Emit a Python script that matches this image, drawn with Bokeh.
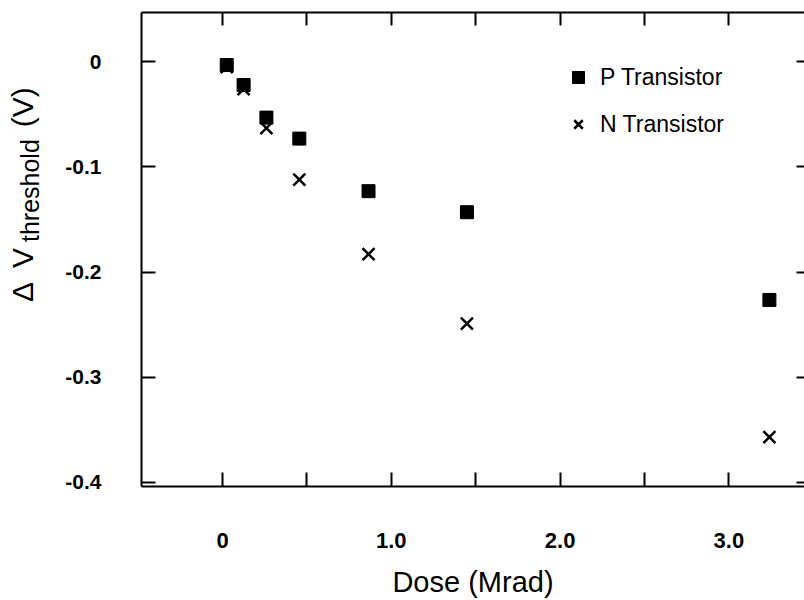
import math
from bokeh.plotting import figure
from bokeh.layouts import row
from bokeh.models import (LinearAxis, FixedTicker, CustomJSTickFormatter,
                          Legend, LegendItem)
from bokeh.core.properties import value
from bokeh.embed import file_html
from bokeh.resources import INLINE

# ---- data ----
dose = [0.025, 0.125, 0.26, 0.455, 0.865, 1.448, 3.24]
p_shift = [-0.003, -0.022, -0.053, -0.073, -0.123, -0.143, -0.2265]
n_shift = [-0.005, -0.026, -0.063, -0.112, -0.183, -0.249, -0.357]
x_ticks = [0, 0.5, 1.0, 1.5, 2.0, 2.5, 3.0, 3.5]
y_ticks = [0, -0.1, -0.2, -0.3, -0.4]
series_names = ["P Transistor", "N Transistor"]
x_title = "Dose (Mrad)"
y_title_parts = ["\u0394", "V", "threshold", "(V)"]

FONT = "Liberation Sans"

# ---- narrow panel holding the composite y-axis title (1 unit = 1 px, y up) ----
t = figure(width=60, height=600, x_range=(0, 60), y_range=(113, 588),
           output_backend="svg", toolbar_location=None,
           x_axis_type=None, y_axis_type=None,
           min_border_left=0, min_border_right=0, min_border_top=12, min_border_bottom=113)
t.xgrid.visible = False
t.ygrid.visible = False
t.outline_line_color = None
tkw = dict(angle=math.pi / 2, text_font=value(FONT), text_color="black",
           text_baseline="alphabetic")
t.text(x=[22], y=[308], text=[y_title_parts[0]], text_font_size="30px",
       text_align="center", **tkw)
t.text(x=[22], y=[342], text=[y_title_parts[1]], text_font_size="30px",
       text_align="center", **tkw)
t.text(x=[29], y=[358], text=[y_title_parts[2]], text_font_size="25px",
       text_align="left", **tkw)
t.text(x=[22], y=[493], text=[y_title_parts[3]], text_font_size="30px",
       text_align="center", **tkw)

# ---- main plot ----
p = figure(width=744, height=600, x_range=(-0.48, 3.448), y_range=(-0.404, 0.047),
           output_backend="svg", toolbar_location=None,
           min_border_left=81, min_border_right=0, min_border_top=12, min_border_bottom=113)
p.xgrid.visible = False
p.ygrid.visible = False
p.outline_line_color = None
p.background_fill_color = "white"
p.border_fill_color = "white"

xfmt = CustomJSTickFormatter(code="""
if (Math.abs(tick - Math.round(tick)) > 1e-9) { return ""; }
if (Math.abs(tick) < 1e-9) { return "0"; }
return tick.toFixed(1);
""")
yfmt = CustomJSTickFormatter(code="""
if (Math.abs(tick) < 1e-9) { return "0"; }
return tick.toFixed(1);
""")
blank = CustomJSTickFormatter(code="return '';")

# bottom axis
xa = p.xaxis[0]
xa.ticker = FixedTicker(ticks=x_ticks)
xa.formatter = xfmt
xa.minor_tick_line_color = None
xa.major_tick_in = 14
xa.major_tick_out = 0
xa.major_tick_line_width = 2
xa.axis_line_width = 2
xa.major_label_standoff = 46
xa.major_label_text_font = FONT
xa.major_label_text_font_style = "bold"
xa.major_label_text_font_size = "22px"
xa.major_label_text_color = "black"
xa.axis_label = x_title
xa.axis_label_text_font = FONT
xa.axis_label_text_font_style = "normal"
xa.axis_label_text_font_size = "29px"
xa.axis_label_standoff = 15
xa.axis_label_text_color = "black"

# left axis
ya = p.yaxis[0]
ya.ticker = FixedTicker(ticks=y_ticks)
ya.formatter = yfmt
ya.minor_tick_line_color = None
ya.major_tick_in = 14
ya.major_tick_out = 0
ya.major_tick_line_width = 2
ya.axis_line_width = 2
ya.major_label_standoff = 40
ya.major_label_text_font = FONT
ya.major_label_text_font_style = "bold"
ya.major_label_text_font_size = "21px"
ya.major_label_text_color = "black"

# top axis (ticks only)
top = LinearAxis(ticker=FixedTicker(ticks=x_ticks), formatter=blank,
                 major_tick_in=13, major_tick_out=0, major_tick_line_width=2,
                 minor_tick_line_color=None, axis_line_width=2,
                 major_label_text_font_size="0px", major_label_standoff=0)
p.add_layout(top, "above")

# right axis (ticks only)
right = LinearAxis(ticker=FixedTicker(ticks=y_ticks), formatter=blank,
                   major_tick_in=8, major_tick_out=0, major_tick_line_width=2,
                   minor_tick_line_color=None, axis_line_color=None,
                   major_label_text_font_size="0px", major_label_standoff=0)
p.add_layout(right, "right")

r_p = p.scatter(dose, p_shift, marker="square", size=13, fill_color="black",
                line_color="black")
r_n = p.scatter(dose, n_shift, marker="x", size=17, line_color="black", line_width=2.5)

legend = Legend(items=[LegendItem(label=series_names[0], renderers=[r_p]),
                       LegendItem(label=series_names[1], renderers=[r_n])],
                location=(422, 347), margin=0, padding=0, spacing=17,
                glyph_width=30, glyph_height=30, label_height=30, label_standoff=7,
                border_line_color=None, background_fill_alpha=0,
                label_text_font=FONT, label_text_font_size="23px",
                label_text_color="black")
p.add_layout(legend, "center")

layout = row(t, p, spacing=0)
open("out.html", "w").write(file_html(layout, INLINE))
